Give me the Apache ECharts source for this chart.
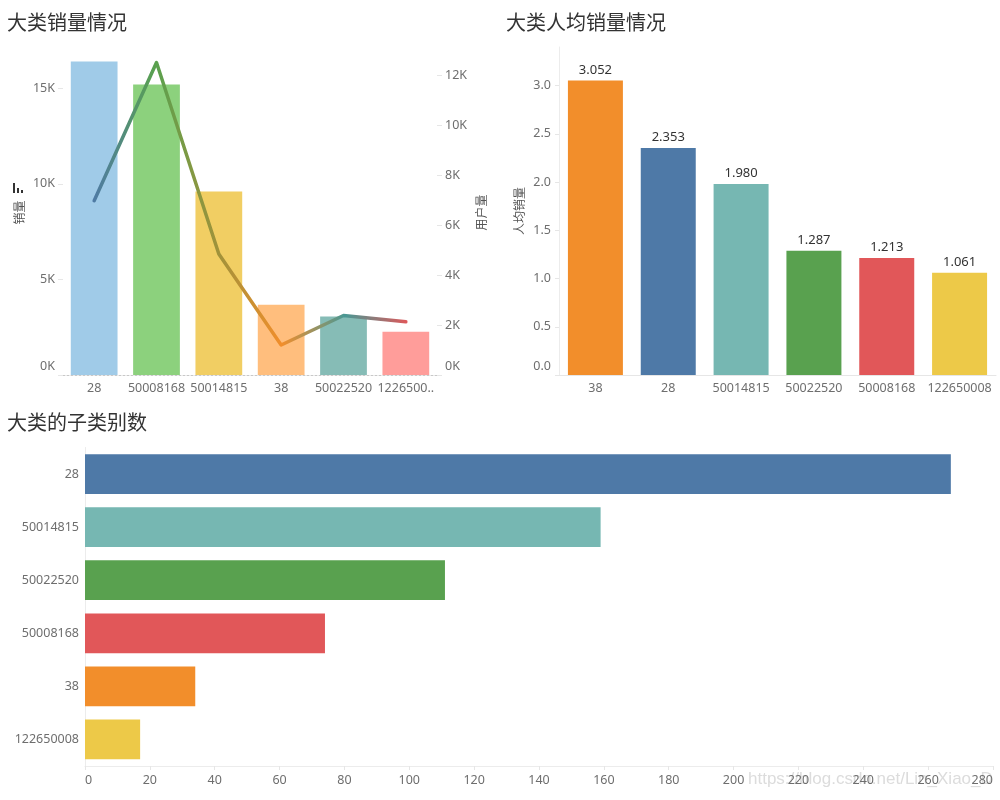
<!DOCTYPE html>
<html><head><meta charset="utf-8">
<script src="https://cdn.jsdelivr.net/npm/echarts@6/dist/echarts.min.js"></script>
<style>html,body{margin:0;padding:0;background:#fff}#c{width:1000px;height:800px}</style>
</head><body><div id="c"></div>
<script>
// ---- data ----
const salesCats = ['28','50008168','50014815','38','50022520','122650008'];
const salesValues = [16400, 15200, 9600, 3670, 3060, 2260];
const userValues = [6970, 12500, 4840, 1200, 2380, 2130];
const salesLeftTicks = ['0K','5K','10K','15K'];
const userRightTicks = ['0K','2K','4K','6K','8K','10K','12K'];

const perCats = ['38','28','50014815','50022520','50008168','122650008'];
const perValues = [3.052, 2.353, 1.980, 1.287, 1.213, 1.061];

const subCats = ['28','50014815','50022520','50008168','38','122650008'];
const subCounts = [267, 159, 111, 74, 34, 17];

// ---- styles ----
const lightColors = {'28':'#a0cbe8','50008168':'#8cd17d','50014815':'#f1ce63','38':'#ffbe7d','50022520':'#86bcb6','122650008':'#ff9d9a'};
const darkColors = {'28':'#4e79a7','50014815':'#76b7b2','50022520':'#59a14f','50008168':'#e15759','38':'#f28e2b','122650008':'#edc948'};
const lineColors = ['#4e79a7','#59a14f','#a0923a','#f28e2b','#499894','#e15759'];
const F = 'Noto Sans, sans-serif';
const labelColor = '#6e6e6e';
const lab = {color: labelColor, fontSize: 12.5, fontFamily: F};
const raisedRich = {up: {color: labelColor, fontSize: 12.5, fontFamily: F, padding: [0, 0, 17, 0]}};
const titleStyle = {fontSize: 20, fontWeight: 'normal', color: '#333', fontFamily: 'Noto Sans CJK SC'};

const chart = echarts.init(document.getElementById('c'), null, {renderer: 'canvas'});
chart.setOption({
  animation: false,
  backgroundColor: '#fff',
  title: [
    {text: '大类销量情况', left: 7, top: 12, padding: 0, textStyle: titleStyle},
    {text: '大类人均销量情况', left: 506, top: 12, padding: 0, textStyle: titleStyle},
    {text: '大类的子类别数', left: 7, top: 412, padding: 0, textStyle: titleStyle}
  ],
  grid: [
    {left: 63, right: 563, top: 50, height: 325, outerBoundsMode: 'none', containLabel: false},
    {left: 559, right: 4, top: 47, height: 328, outerBoundsMode: 'none', containLabel: false},
    {left: 85, right: 7, top: 447.5, height: 318.5, outerBoundsMode: 'none', containLabel: false}
  ],
  xAxis: [
    {gridIndex: 0, type: 'category', data: salesCats,
     axisLine: {lineStyle: {color: '#c8c8c8', type: [2, 2]}},
     axisTick: {length: 5, lineStyle: {color: '#e2e2e2'}},
     axisLabel: Object.assign({}, lab, {margin: 7, interval: 0,
       formatter: v => v.length > 8 ? v.slice(0, 7) + '..' : v})},
    {gridIndex: 1, type: 'category', data: perCats,
     axisLine: {lineStyle: {color: '#e6e6e6'}},
     axisTick: {length: 5, lineStyle: {color: '#e6e6e6'}},
     axisLabel: Object.assign({}, lab, {margin: 7, interval: 0})},
    {gridIndex: 2, type: 'value', min: 0, max: 280, interval: 20,
     splitLine: {show: false},
     axisLine: {show: true, lineStyle: {color: '#ececec'}},
     axisTick: {show: true, length: 4, lineStyle: {color: '#e6e6e6'}},
     axisLabel: Object.assign({}, lab, {margin: 8, alignMinLabel: 'left', alignMaxLabel: 'right'})}
  ],
  yAxis: [
    {gridIndex: 0, type: 'value', min: 0, max: 17000, interval: 5000,
     name: '销量', nameLocation: 'middle', nameRotate: 90, nameGap: 38,
     nameTextStyle: {color: '#555', fontSize: 12, fontFamily: 'Noto Sans CJK SC'},
     splitLine: {show: false}, axisLine: {show: false},
     axisTick: {show: true, length: 5, lineStyle: {color: '#e6e6e6'}},
     axisLabel: Object.assign({}, lab, {margin: 8, showMaxLabel: false, rich: raisedRich,
       formatter: v => v === 0 ? '{up|' + salesLeftTicks[0] + '}' : (salesLeftTicks[v / 5000] || '')})},
    {gridIndex: 0, type: 'value', position: 'right', min: 0, max: 13000, interval: 2000,
     name: '用户量', nameLocation: 'middle', nameRotate: 90, nameGap: 38,
     nameTextStyle: {color: '#555', fontSize: 12, fontFamily: 'Noto Sans CJK SC'},
     splitLine: {show: false}, axisLine: {show: false},
     axisTick: {show: true, length: 5, lineStyle: {color: '#e6e6e6'}},
     axisLabel: Object.assign({}, lab, {margin: 8, showMaxLabel: false, rich: raisedRich,
       formatter: v => v === 0 ? '{up|' + userRightTicks[0] + '}' : (userRightTicks[v / 2000] || '')})},
    {gridIndex: 1, type: 'value', min: 0, max: 3.4, interval: 0.5,
     name: '人均销量', nameLocation: 'middle', nameRotate: 90, nameGap: 34,
     nameTextStyle: {color: '#555', fontSize: 12, fontFamily: 'Noto Sans CJK SC'},
     splitLine: {show: false},
     axisLine: {show: true, lineStyle: {color: '#ececec'}},
     axisTick: {show: true, length: 4, lineStyle: {color: '#e6e6e6'}},
     axisLabel: Object.assign({}, lab, {margin: 8, showMaxLabel: false, rich: raisedRich,
       formatter: v => v === 0 ? '{up|0.0}' : v.toFixed(1)})},
    {gridIndex: 2, type: 'category', data: subCats, inverse: true,
     axisLine: {show: true, lineStyle: {color: '#ececec'}},
     axisTick: {show: false},
     axisLabel: Object.assign({}, lab, {margin: 6, interval: 0})}
  ],
  series: [
    {type: 'bar', xAxisIndex: 0, yAxisIndex: 0, barWidth: '75%',
     data: salesValues.map((v, i) => ({value: v, itemStyle: {color: lightColors[salesCats[i]]}}))},
    {type: 'line', xAxisIndex: 0, yAxisIndex: 1, data: userValues, symbol: 'none', z: 5,
     lineStyle: {width: 3.5, cap: 'round', join: 'round',
       color: {type: 'linear', x: 0, y: 0, x2: 1, y2: 0,
         colorStops: lineColors.map((c, i) => ({offset: i / (lineColors.length - 1), color: c}))}}},
    {type: 'bar', xAxisIndex: 1, yAxisIndex: 2, barWidth: '75.5%',
     label: {show: true, position: 'top', distance: 4, color: '#333', fontSize: 13, fontFamily: F,
       formatter: p => p.value.toFixed(3)},
     data: perValues.map((v, i) => ({value: v, itemStyle: {color: darkColors[perCats[i]]}}))},
    {type: 'bar', xAxisIndex: 2, yAxisIndex: 3, barWidth: '75%',
     data: subCounts.map((v, i) => ({value: v, itemStyle: {color: darkColors[subCats[i]]}}))}
  ],
  graphic: [
    {type: 'group', left: 13, top: 183, children: [
      {type: 'rect', shape: {x: 0, y: 0, width: 2, height: 10}, style: {fill: '#333'}},
      {type: 'rect', shape: {x: 4, y: 5, width: 2, height: 5}, style: {fill: '#333'}},
      {type: 'rect', shape: {x: 8, y: 7, width: 2, height: 3}, style: {fill: '#333'}}
    ]},
    {type: 'text', left: 748, top: 771, z: -1, silent: true,
     style: {text: 'https://blog.csdn.net/Lin_Xiao_D', fill: '#dcdcdc', fontSize: 17, fontFamily: 'Liberation Sans'}}
  ]
});
</script></body></html>
